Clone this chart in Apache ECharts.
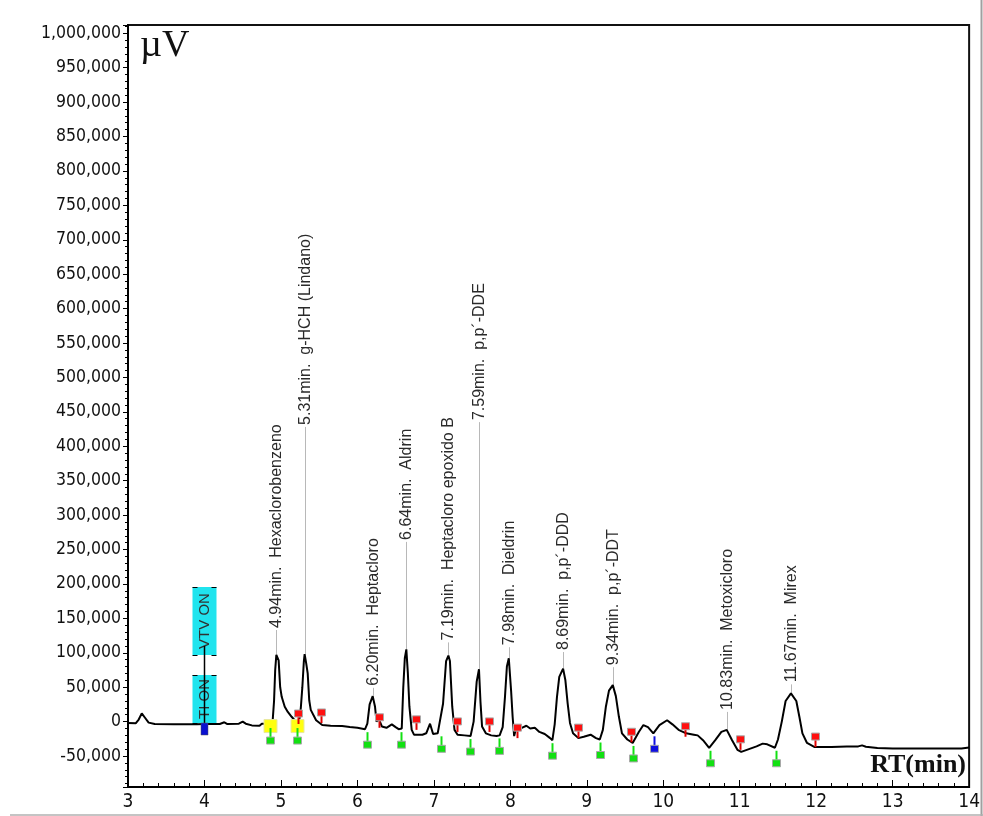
<!DOCTYPE html>
<html>
<head>
<meta charset="utf-8">
<script src="https://cdn.jsdelivr.net/npm/echarts@6/dist/echarts.min.js"></script>
<style>
  html, body { margin: 0; padding: 0; background: #fff; }
  #chart { width: 983px; height: 816px; }
</style>
</head>
<body>
<div id="chart"></div>
<script>
// Chromatogram trace: retention time (min) and detector signal (µV)
const traceTime = [
  3.00, 3.10, 3.14, 3.18, 3.22, 3.27, 3.35, 3.60, 3.90, 4.00, 4.20, 4.26, 4.30, 4.45, 4.50, 4.54,
  4.62, 4.72, 4.75, 4.85, 4.89, 4.91, 4.925, 4.94, 4.97, 4.99, 5.01, 5.05, 5.09, 5.14, 5.18, 5.21,
  5.24, 5.26, 5.28, 5.30, 5.31, 5.33, 5.35, 5.37, 5.39, 5.46, 5.54, 5.65, 5.80, 5.90, 6.00, 6.10,
  6.13, 6.16, 6.20, 6.23, 6.25, 6.28, 6.32, 6.38, 6.45, 6.50, 6.54, 6.58, 6.60, 6.62, 6.64, 6.66,
  6.68, 6.71, 6.74, 6.85, 6.90, 6.95, 6.99, 7.05, 7.12, 7.16, 7.19, 7.21, 7.24, 7.27, 7.31, 7.40,
  7.48, 7.52, 7.56, 7.59, 7.61, 7.63, 7.68, 7.75, 7.82, 7.86, 7.90, 7.93, 7.955, 7.98, 8.01, 8.03,
  8.05, 8.07, 8.10, 8.15, 8.21, 8.26, 8.32, 8.38, 8.45, 8.52, 8.55, 8.58, 8.61, 8.64, 8.69, 8.72,
  8.75, 8.78, 8.82, 8.89, 8.96, 9.05, 9.12, 9.17, 9.21, 9.25, 9.29, 9.34, 9.38, 9.42, 9.46, 9.53,
  9.60, 9.68, 9.74, 9.80, 9.87, 9.95, 10.05, 10.12, 10.20, 10.30, 10.40, 10.45, 10.52, 10.60, 10.68, 10.76,
  10.83, 10.90, 10.97, 11.02, 11.12, 11.22, 11.30, 11.36, 11.46, 11.50, 11.55, 11.60, 11.67, 11.74, 11.78, 11.82,
  11.88, 11.98, 12.20, 12.40, 12.55, 12.60, 12.65, 12.80, 13.00, 13.50, 13.90, 14.00
];
const traceSignal = [
  -2000, -2500, 3000, 12000, 6000, -1500, -3500, -4000, -4000, -3500, -3500, -1000, -3500, -3000, 0, -3000,
  -5500, -6000, -3000, -3000, -1500, 30000, 75000, 97000, 89000, 50000, 36000, 21500, 14000, 7000, 2000, 0,
  2000, 20000, 50000, 88000, 98000, 85000, 70000, 31000, 17000, 2000, -5000, -6000, -6500, -8000, -9000, -11000,
  -3000, 25000, 37000, 22000, 0, 4000, -7000, -9000, -4000, -8000, -11000, -10000, 50000, 92000, 105000, 70000,
  22000, -12000, -19000, -19000, -17000, -3000, -18000, -17000, 26000, 88000, 96000, 88000, 22000, -12000, -19000, -20000,
  -21000, 0, 58000, 76000, 28000, -7000, -17000, -20000, -21000, -20000, -8000, 36000, 80000, 92000, 45000, 7000,
  -21000, -12000, -12000, -9000, -6000, -10000, -9000, -15000, -18000, -24000, -27000, -4000, 36000, 65000, 77000, 60000,
  26000, -2000, -17000, -24000, -22000, -19000, -24000, -26000, -12000, 22000, 45000, 53000, 37000, 7000, -17000, -26000,
  -31000, -15000, -5000, -8000, -17000, -5000, 2000, -4000, -12000, -17000, -19000, -20000, -27000, -38000, -27000, -15000,
  -12000, -27000, -41000, -44000, -40000, -36000, -32000, -33000, -38000, -26000, 0, 30000, 41000, 30000, 7000, -17000,
  -31000, -37000, -37000, -36000, -36000, -34500, -36500, -38500, -39000, -39000, -39000, -37500
];

// Identified peaks: retention time, apex height, compound, level where the label begins
const peakTime = [4.94, 5.31, 6.20, 6.64, 7.19, 7.59, 7.98, 8.69, 9.34, 10.83, 11.67];
const peakHeight = [97000, 98000, 37000, 105000, 96000, 76000, 92000, 77000, 53000, -12000, 41000];
const peakName = [
  'Hexaclorobenzeno', 'g-HCH (Lindano)', 'Heptacloro', 'Aldrin', 'Heptacloro epoxido B',
  'p,p´-DDE', 'Dieldrin', 'p,p´-DDD', 'p,p´-DDT', 'Metoxicloro', 'Mirex'
];
const peakLabelLevel = [136000, 431000, 52000, 264000, 118000, 438000, 111000, 104000, 82000, 17000, 57000];

// Integration marks
const peakEndTime = [5.22, 5.52, 6.28, 6.77, 7.30, 7.72, 8.09, 8.89, 9.58, 10.28, 11.00, 11.98];
const peakEndSignal = [-3500, -2000, -9000, -12000, -15000, -15000, -24000, -24000, -30000, -22000, -41000, -37000];
const peakStartTime = [4.86, 5.21, 6.13, 6.57, 7.09, 7.47, 7.85, 8.54, 9.17, 9.61, 10.61, 11.48];
const peakStartSignal = [-5000, -5000, -11000, -11000, -17000, -21000, -20000, -27000, -26000, -31000, -38000, -38000];
const valleyTime = [9.88];
const valleySignal = [-17000];
const driftTime = [4.86, 5.21];
const driftSignal = [-6500, -6500];

// Time program events
const eventTime = [4.0];
const eventSignal = [-3500];
const eventNames = ['TI ON', 'VTV ON'];

// Axis ranges
const xMin = 3, xMax = 14, xStep = 1;
const yMin = -95000, yMax = 1012000, yStep = 50000;

const pairs = (xs, ys) => xs.map((x, i) => [x, ys[i]]);

const chart = echarts.init(document.getElementById('chart'), null, { renderer: 'canvas' });

const axisFont = '"DejaVu Sans Condensed", "DejaVu Sans", sans-serif';

function markRenderer(kind) {
  return function (params, api) {
    const p = api.coord([api.value(0), api.value(1)]);
    const x = Math.round(p[0]) + 0.5, y = p[1];
    const outline = '#a8a8a8';
    if (kind === 'end') {
      return { type: 'group', children: [
        { type: 'line', shape: { x1: x, y1: y - 7, x2: x, y2: y }, style: { stroke: '#e00000', lineWidth: 2 } },
        { type: 'rect', shape: { x: x - 4, y: y - 14, width: 8, height: 7 }, style: { fill: '#ff1010', stroke: outline, lineWidth: 1 } }
      ] };
    }
    if (kind === 'start' || kind === 'valley') {
      const c = kind === 'start' ? '#12e012' : '#1010e0';
      return { type: 'group', children: [
        { type: 'line', shape: { x1: x, y1: y + 3, x2: x, y2: y + 13 }, style: { stroke: c, lineWidth: 2 } },
        { type: 'rect', shape: { x: x - 4, y: y + 12, width: 8, height: 7 }, style: { fill: c, stroke: outline, lineWidth: 1 } }
      ] };
    }
    // drift mark
    return { type: 'rect', shape: { x: x - 6.5, y: y - 6.5, width: 13, height: 13 }, style: { fill: '#ffff10', stroke: '#e8e8a0', lineWidth: 1 } };
  };
}

function peakLabelRenderer(params, api) {
  const i = params.dataIndex;
  const apex = api.coord([api.value(0), api.value(1)]);
  const top = api.coord([api.value(0), api.value(2)]);
  const x = Math.round(apex[0]) + 0.5;
  return { type: 'group', children: [
    { type: 'line', shape: { x1: x, y1: apex[1], x2: x, y2: top[1] + 2 }, style: { stroke: '#b8b8b8', lineWidth: 1 } },
    { type: 'text', x: x, y: top[1], rotation: Math.PI / 2,
      style: { text: peakTime[i].toFixed(2) + 'min.  ' + peakName[i], fill: '#2a2a2a',
               font: '16px "Liberation Sans", Arial, sans-serif',
               textAlign: 'left', textVerticalAlign: 'middle', align: 'left', verticalAlign: 'middle' } }
  ] };
}

function eventRenderer(params, api) {
  const p = api.coord([api.value(0), api.value(1)]);
  const x = Math.round(p[0]) + 0.5, y = Math.round(p[1]);
  const w = 24;
  const boxes = [
    { top: y - 49, bottom: y - 1, text: eventNames[0] },
    { top: y - 137, bottom: y - 69, text: eventNames[1] }
  ];
  const children = [];
  boxes.forEach(b => {
    children.push({ type: 'rect', shape: { x: x - w / 2, y: b.top, width: w, height: b.bottom - b.top },
                    style: { fill: '#20e4ee' } });
    [b.top, b.bottom].forEach(yy => {
      children.push({ type: 'line', shape: { x1: x - w / 2, y1: yy + 0.5, x2: x - w / 2 + 5, y2: yy + 0.5 }, style: { stroke: '#000', lineWidth: 1 } });
      children.push({ type: 'line', shape: { x1: x + w / 2 - 5, y1: yy + 0.5, x2: x + w / 2, y2: yy + 0.5 }, style: { stroke: '#000', lineWidth: 1 } });
    });
    children.push({ type: 'text', x: x, y: (b.top + b.bottom) / 2, rotation: Math.PI / 2,
      style: { text: b.text, fill: '#303030', font: '15px "Liberation Sans", Arial, sans-serif',
               textAlign: 'center', textVerticalAlign: 'middle', align: 'center', verticalAlign: 'middle' } });
  });
  children.push({ type: 'line', shape: { x1: x, y1: y - 78, x2: x, y2: y + 4 }, style: { stroke: '#000', lineWidth: 1.5 } });
  children.push({ type: 'rect', shape: { x: x - 3.5, y: y - 1, width: 7, height: 12 }, style: { fill: '#0a10d0', stroke: '#555', lineWidth: 0.5 } });
  return { type: 'group', children };
}

const option = {
  animation: false,
  grid: { left: 128, right: 11, top: 25, bottom: 29, show: true, borderColor: '#111', borderWidth: 2, backgroundColor: 'transparent' },
  xAxis: {
    type: 'value', min: xMin, max: xMax, interval: xStep,
    axisLine: { onZero: false, lineStyle: { color: '#000', width: 2 } },
    axisTick: { inside: true, length: 7, lineStyle: { color: '#000', width: 1 } },
    minorTick: { show: true, splitNumber: 5, length: 4, lineStyle: { color: '#000', width: 1 } },
    axisLabel: { color: '#111', fontFamily: axisFont, fontSize: 19, margin: 6 },
    splitLine: { show: false }
  },
  yAxis: [
    {
      type: 'value', position: 'left', min: yMin, max: yMax, minInterval: yStep, maxInterval: yStep, splitNumber: 22,
      axisLine: { onZero: false, lineStyle: { color: '#000', width: 2 } },
      axisTick: { length: 5, lineStyle: { color: '#000', width: 1 } },
      axisLabel: { color: '#111', fontFamily: axisFont, fontSize: 17.5, margin: 7,
                   formatter: v => (v % yStep === 0 ? v.toLocaleString('en-US') : '') },
      splitLine: { show: false }
    },
    {
      type: 'value', position: 'left', offset: 0, min: yMin, max: yMax,
      minInterval: yStep / 5, maxInterval: yStep / 5, splitNumber: 110,
      axisLine: { show: false, onZero: false },
      axisTick: { length: 3, lineStyle: { color: '#000', width: 1 } },
      axisLabel: { show: false },
      splitLine: { show: false }
    }
  ],
  series: [
    {
      type: 'line', data: pairs(traceTime, traceSignal), showSymbol: false, z: 3,
      lineStyle: { color: '#000', width: 2 }
    },
    { type: 'custom', renderItem: peakLabelRenderer, z: 2,
      data: peakTime.map((t, i) => [t, peakHeight[i], peakLabelLevel[i]]) },
    { type: 'custom', renderItem: eventRenderer, z: 4, data: pairs(eventTime, eventSignal) },
    { type: 'custom', renderItem: markRenderer('drift'), z: 5, data: pairs(driftTime, driftSignal) },
    { type: 'custom', renderItem: markRenderer('end'), z: 6, data: pairs(peakEndTime, peakEndSignal) },
    { type: 'custom', renderItem: markRenderer('start'), z: 6, data: pairs(peakStartTime, peakStartSignal) },
    { type: 'custom', renderItem: markRenderer('valley'), z: 6, data: pairs(valleyTime, valleySignal) }
  ],
  graphic: [
    { type: 'text', left: 140, top: 27, z: 10,
      style: { text: 'µV', font: '38px "Liberation Serif", "Times New Roman", serif', fill: '#111' } },
    { type: 'text', right: 17, top: 752, z: 10,
      style: { text: 'RT(min)', font: 'bold 26px "Liberation Serif", "Times New Roman", serif', fill: '#111' } },
    { type: 'line', shape: { x1: 981.5, y1: 0, x2: 981.5, y2: 816 }, style: { stroke: '#a0a0a0', lineWidth: 2 } },
    { type: 'line', shape: { x1: 10, y1: 815, x2: 983, y2: 815 }, style: { stroke: '#b0b0b0', lineWidth: 1.5 } }
  ]
};

chart.setOption(option);
</script>
</body>
</html>
